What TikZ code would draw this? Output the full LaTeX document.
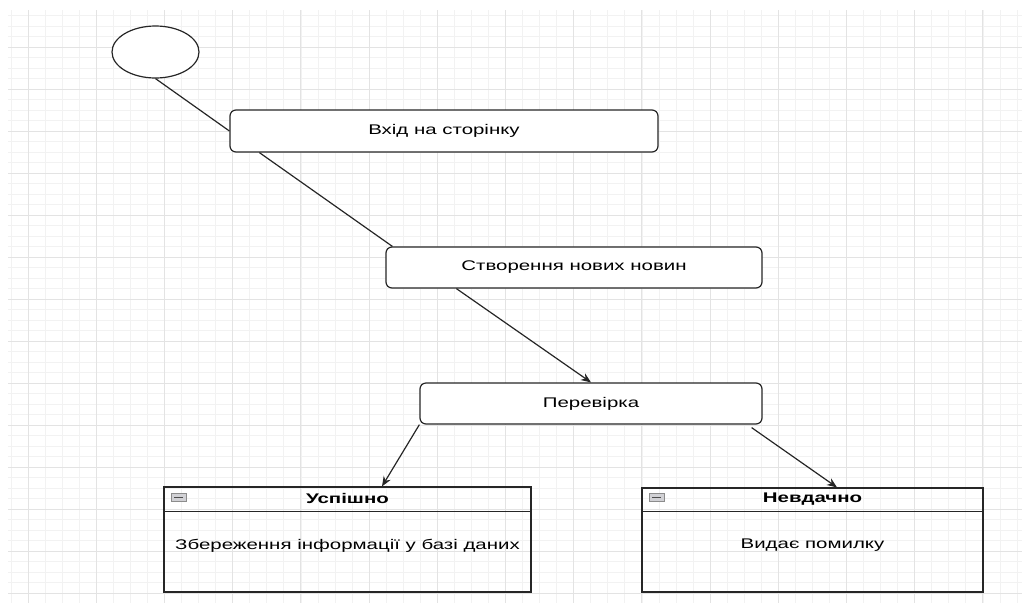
\documentclass[tikz,border=0pt]{standalone}
\usepackage{fontspec}
\setmainfont[FakeStretch=1.46]{Liberation Sans}
\usetikzlibrary{shapes.geometric,arrows.meta,calc}
\begin{document}
\begin{tikzpicture}[x=1pt,y=-1pt,
    state/.style={draw=black!85,rounded corners=6pt,line width=1.2pt,font=\fontsize{14}{16}\selectfont},
    result/.style={draw=black!85,line width=1.2pt,inner sep=0pt},
    title/.style={font=\bfseries\fontsize{14}{16}\selectfont},
    body/.style={font=\fontsize{14}{16}\selectfont},
    icon/.style={draw=black!45,fill=blue!8!black!18,line width=0.6pt},
    line/.style={draw=black!85,line width=1.2pt},
    minorline/.style={draw=black!5,line width=0.6pt},
    majorline/.style={draw=black!11,line width=0.9pt},
    >={Stealth[length=10pt,width=8pt]}]
  \useasboundingbox (0,0) rectangle (1022,603);
  % grid
  \foreach \k in {0,...,59} \draw[minorline] ({10.95+17.05*\k},10) -- ({10.95+17.05*\k},603);
  \foreach \k in {0,...,55} \draw[minorline] (8,{15.5+10.5*\k}) -- (1022,{15.5+10.5*\k});
  \foreach \k in {0,...,14} \draw[majorline] ({28+68.2*\k},10) -- ({28+68.2*\k},603);
  \foreach \k in {0,...,13} \draw[majorline] (8,{47+42*\k}) -- (1022,{47+42*\k});

  \node[ellipse,draw=black!85,fill=white,line width=1.2pt,minimum width=87pt,minimum height=52pt,inner sep=0pt] (start) at (155.5,52) {};
  \node[state,fill=white,minimum width=428pt,minimum height=42pt] (entry) at (444,131) {Вхід на сторінку};
  \node[state,fill=white,minimum width=376pt,minimum height=41pt] (create) at (574,267.5) {Створення нових новин};
  \node[state,fill=white,minimum width=342pt,minimum height=41pt] (check) at (591,403.5) {Перевірка};

  % results
  \node[result,minimum width=367pt,minimum height=105pt] (ok) at (347.5,539.5) {};
  \draw[line] ($(ok.north west)+(0,25)$) -- ($(ok.north east)+(0,25)$);
  \draw[icon] ($(ok.north west)+(8,7)$) rectangle ($(ok.north west)+(23,15)$);
  \draw[black!70,line width=1pt] ($(ok.north west)+(11,11)$) -- ($(ok.north west)+(20,11)$);
  \node[title] (oktitle) at ($(ok.north)+(0,12.5)$) {Успішно};
  \node[body] (oktext) at ($(ok.center)+(0,6)$) {Збереження інформації у базі даних};

  \node[result,minimum width=341pt,minimum height=104pt] (fail) at (812.5,540) {};
  \draw[line] ($(fail.north west)+(0,24)$) -- ($(fail.north east)+(0,24)$);
  \draw[icon] ($(fail.north west)+(8,6)$) rectangle ($(fail.north west)+(23,14)$);
  \draw[black!70,line width=1pt] ($(fail.north west)+(11,10)$) -- ($(fail.north west)+(20,10)$);
  \node[title] (failtitle) at ($(fail.north)+(0,11.5)$) {Невдачно};
  \node[body] (failtext) at ($(fail.center)+(0,5)$) {Видає помилку};

  \draw[line] (start.south) to (entry.west);
  \draw[line] ($(entry.south west)+(30,0)$) to ($(create.north west)+(7,0)$);
  \draw[line,->] ($(create.south west)+(71,0)$) to (check.north);
  \draw[line,->] (check.south west) to ($(ok.north)+(34.5,0)$);
  \draw[line,->] ($(check.south east)+(-11,3)$) to ($(fail.north)+(24.5,0)$);
\end{tikzpicture}
\end{document}
